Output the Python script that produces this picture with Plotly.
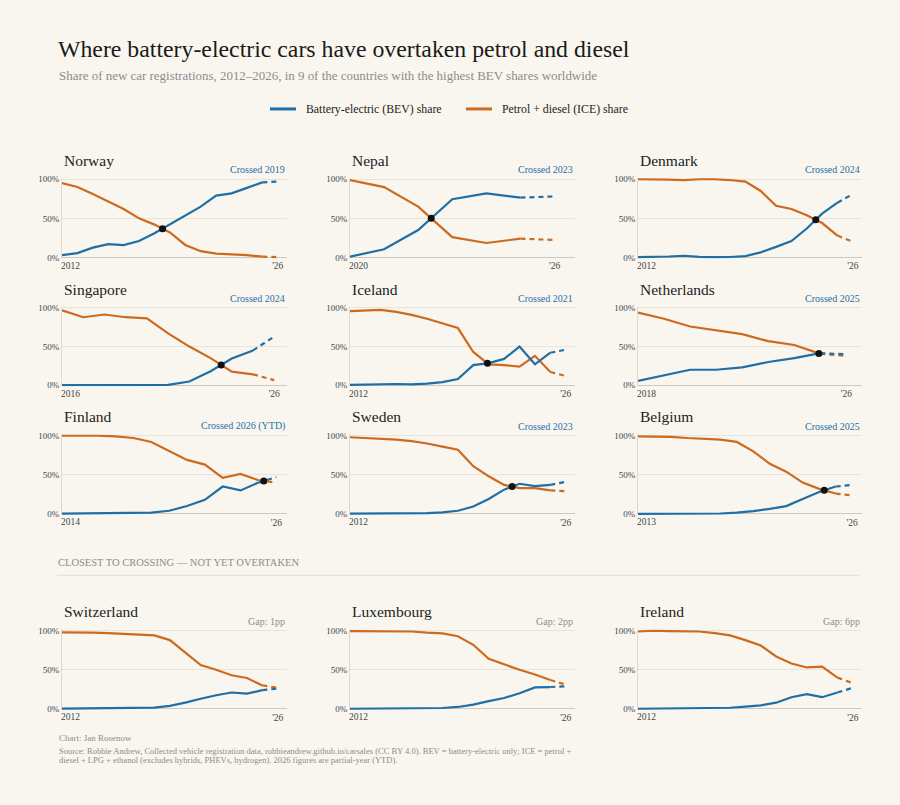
import plotly.graph_objects as go

# --- data (share of new car registrations, %) ---
countries = ["Norway", "Nepal", "Denmark", "Singapore", "Iceland", "Netherlands",
             "Finland", "Sweden", "Belgium", "Switzerland", "Luxembourg", "Ireland"]
start_years = [2012, 2020, 2012, 2016, 2012, 2018, 2014, 2012, 2013, 2012, 2012, 2012]
corner_labels = ["Crossed 2019", "Crossed 2023", "Crossed 2024", "Crossed 2024", "Crossed 2021",
                 "Crossed 2025", "Crossed 2026 (YTD)", "Crossed 2023", "Crossed 2025",
                 "Gap: 1pp", "Gap: 2pp", "Gap: 6pp"]
crossed = [True] * 9 + [False] * 3

bev_norway = [3, 5.5, 12.5, 17, 15.7, 21, 31, 42, 54, 65, 79, 82, 89, 96, 97]
ice_norway = [95, 90, 81, 72, 62, 50, 42, 32, 16, 8, 5, 4, 3, 1, 0.5]
bev_nepal = [1, 10.5, 35, 74.5, 82, 76.5, 78]
ice_nepal = [99, 90, 65, 26, 18.5, 24, 22.5]
bev_denmark = [0.3, 0.5, 1.2, 2.2, 0.8, 0.4, 0.6, 1.8, 6.5, 13.5, 21, 37, 56, 70, 81]
ice_denmark = [100, 100, 99.5, 99, 100, 100, 99, 97, 85, 66, 62, 54, 44, 28, 20]
bev_singapore = [0.1, 0.1, 0.1, 0.1, 0.2, 0.3, 4.7, 18, 34.5, 45, 63]
ice_singapore = [97, 88, 91.5, 88, 86.5, 67, 50, 35, 17.5, 14, 6.5]
bev_iceland = [0.5, 1, 1, 1.5, 1, 2, 4, 8, 26, 28.5, 34, 50, 27, 42, 46]
ice_iceland = [96, 97, 97.5, 95, 91, 86, 80, 74, 43, 27, 26, 24, 38, 17, 12]
bev_netherlands = [5.5, 13, 20, 20, 23, 30, 35, 41.5, 40]
ice_netherlands = [94, 86, 76, 71, 66, 57, 52, 40.5, 38]
bev_finland = [0.2, 0.3, 0.4, 0.5, 0.7, 1.5, 4, 10, 18, 35, 30, 40, 47]
ice_finland = [100, 100, 100, 99, 97, 92, 80, 69, 63, 46, 51, 43, 40]
bev_sweden = [0.3, 0.3, 0.4, 0.5, 0.7, 1, 2, 4, 9.5, 19, 31, 38.5, 35.5, 37, 41]
ice_sweden = [98, 97, 96, 95, 93, 90, 86, 82, 61, 48, 37, 33, 33, 30, 29]
bev_belgium = [0.1, 0.2, 0.2, 0.3, 0.3, 0.5, 1.5, 3.5, 6.5, 10, 19, 28, 35, 37]
ice_belgium = [99, 99, 98.5, 97, 96, 95, 92, 80, 64, 54, 40, 32, 26, 23.5]
bev_switzerland = [0.3, 0.5, 0.7, 1, 1.2, 1.5, 1.7, 4, 8, 13, 17.5, 21, 19.5, 24, 26]
ice_switzerland = [98, 98, 97.5, 97, 96, 95.5, 94, 88, 72, 56, 50, 43, 39.5, 30, 27]
bev_luxembourg = [0.2, 0.3, 0.4, 0.5, 0.6, 0.8, 1.2, 2.5, 5.5, 10, 14, 20, 27.5, 28, 29]
ice_luxembourg = [99.5, 99.5, 99, 99.5, 99, 97.5, 96.5, 93, 82, 64, 57, 50, 44, 37, 31]
bev_ireland = [0.2, 0.3, 0.3, 0.3, 0.4, 0.5, 1.5, 3, 4.5, 8, 15, 19, 15, 21, 27]
ice_ireland = [99, 100, 99.5, 99.5, 99, 97, 94, 88, 81, 67, 58, 53, 54, 40, 33]

bev_all = [bev_norway, bev_nepal, bev_denmark, bev_singapore, bev_iceland, bev_netherlands,
           bev_finland, bev_sweden, bev_belgium, bev_switzerland, bev_luxembourg, bev_ireland]
ice_all = [ice_norway, ice_nepal, ice_denmark, ice_singapore, ice_iceland, ice_netherlands,
           ice_finland, ice_sweden, ice_belgium, ice_switzerland, ice_luxembourg, ice_ireland]

# --- style ---
W, H = 900, 805
BG = "#f9f6ef"
BLUE = "#1f6fa6"
ORANGE = "#cc6a1f"
GRID = "#e8e4db"
INK = "#222222"
GREY = "#8c8c8c"
SERIF = "Liberation Serif, DejaVu Serif, serif"

col_px = [(62, 287), (350, 575), (638, 862)]
row_px = [(177, 256), (307, 385), (436, 515), (633, 712)]


def fx(px):
    return px / W


def fy(px):
    return 1 - px / H


fig = go.Figure()
annotations = []
shapes = []
layout_axes = {}

for k, name in enumerate(countries):
    n = k + 1
    xa = "x" if n == 1 else f"x{n}"
    ya = "y" if n == 1 else f"y{n}"
    start = start_years[k]
    years = list(range(start, 2027))
    bev, ice = bev_all[k], ice_all[k]

    for vals, color in [(ice, ORANGE), (bev, BLUE)]:
        fig.add_trace(go.Scatter(x=years[:-1], y=vals[:-1], mode="lines",
                                 line=dict(color=color, width=2.2),
                                 xaxis=xa, yaxis=ya, showlegend=False, hoverinfo="skip"))
        fig.add_trace(go.Scatter(x=years[-2:], y=vals[-2:], mode="lines",
                                 line=dict(color=color, width=2.2, dash="5px,4px"),
                                 xaxis=xa, yaxis=ya, showlegend=False, hoverinfo="skip"))

    # crossing point (first year BEV overtakes ICE, linearly interpolated)
    if crossed[k]:
        for i in range(1, len(years)):
            d0 = bev[i - 1] - ice[i - 1]
            d1 = bev[i] - ice[i]
            if d0 < 0 <= d1:
                t = -d0 / (d1 - d0)
                fig.add_trace(go.Scatter(x=[years[i - 1] + t], y=[bev[i - 1] + t * (bev[i] - bev[i - 1])],
                                         mode="markers", marker=dict(color="#111111", size=7),
                                         xaxis=xa, yaxis=ya, showlegend=False, hoverinfo="skip"))
                break

    left, right = col_px[k % 3]
    top, bottom = row_px[k // 3]
    extra = (bottom - top) * 0.015
    layout_axes["xaxis" if n == 1 else f"xaxis{n}"] = dict(
        domain=[fx(left), fx(right)], range=[start, 2026.6], anchor=ya,
        tickvals=[2026], ticktext=["'26"], ticks="", showgrid=False, zeroline=False,
        showline=False, tickfont=dict(family=SERIF, size=9.5, color="#444"), fixedrange=True)
    layout_axes["yaxis" if n == 1 else f"yaxis{n}"] = dict(
        domain=[fy(bottom + extra), fy(top - extra)], range=[-1.5, 101.5], anchor=xa,
        tickvals=[0, 50, 100], ticktext=["0%", "50%", "100%"], ticks="",
        showgrid=True, gridcolor=GRID, gridwidth=1,
        zeroline=True, zerolinecolor="#cfcac0", zerolinewidth=1,
        showline=True, linecolor="#dedad1", linewidth=1,
        tickfont=dict(family=SERIF, size=9, color="#444"), fixedrange=True)

    # panel title, corner note, start-year label
    annotations.append(dict(text=name, xref=f"{xa} domain", yref="paper", x=0, y=fy(top - 19),
                            xanchor="left", yanchor="middle", showarrow=False,
                            font=dict(family=SERIF, size=15.5, color=INK)))
    annotations.append(dict(text=corner_labels[k], xref=f"{xa} domain", yref="paper", x=1, y=fy(top - 9.5),
                            xanchor="right", yanchor="middle", showarrow=False,
                            font=dict(family=SERIF, size=10, color=BLUE if crossed[k] else GREY)))
    annotations.append(dict(text=str(start), xref=xa, yref="paper", x=start, y=fy(bottom + 8.5),
                            xanchor="left", yanchor="middle", showarrow=False, xshift=-3,
                            font=dict(family=SERIF, size=9.5, color="#444")))

# headings
annotations += [
    dict(text="Where battery-electric cars have overtaken petrol and diesel", x=fx(56), y=fy(45),
         font=dict(family=SERIF, size=23.8, color="#1a1a1a")),
    dict(text="Share of new car registrations, 2012–2026, in 9 of the countries with the highest BEV shares worldwide",
         x=fx(57), y=fy(72), font=dict(family=SERIF, size=12.95, color=GREY)),
    dict(text="Battery-electric (BEV) share", x=fx(304), y=fy(106), font=dict(family=SERIF, size=11.8, color=INK)),
    dict(text="Petrol + diesel (ICE) share", x=fx(500), y=fy(106), font=dict(family=SERIF, size=11.8, color=INK)),
    dict(text="CLOSEST TO CROSSING — NOT YET OVERTAKEN", x=fx(56), y=fy(564),
         font=dict(family=SERIF, size=10.5, color=GREY)),
    dict(text="Chart: Jan Rosenow", x=fx(57), y=fy(741), font=dict(family=SERIF, size=9, color=GREY)),
    dict(text="Source: Robbie Andrew, Collected vehicle registration data, robbieandrew.github.io/carsales (CC BY 4.0). "
              "BEV = battery-electric only; ICE = petrol +",
         x=fx(57), y=fy(755), font=dict(family=SERIF, size=8.5, color=GREY)),
    dict(text="diesel + LPG + ethanol (excludes hybrids, PHEVs, hydrogen). 2026 figures are partial-year (YTD).",
         x=fx(57), y=fy(764), font=dict(family=SERIF, size=8.5, color=GREY)),
]
for a in annotations[-8:]:
    a.update(xref="paper", yref="paper", xanchor="left", yanchor="middle", showarrow=False)

shapes += [
    dict(type="line", xref="paper", yref="paper", x0=fx(270), x1=fx(296), y0=fy(106), y1=fy(106),
         line=dict(color=BLUE, width=3)),
    dict(type="line", xref="paper", yref="paper", x0=fx(466), x1=fx(492), y0=fy(106), y1=fy(106),
         line=dict(color=ORANGE, width=3)),
    dict(type="line", xref="paper", yref="paper", x0=fx(57), x1=fx(860), y0=fy(577), y1=fy(577),
         line=dict(color="#e2ded5", width=1)),
]

fig.update_layout(
    width=W, height=H, margin=dict(l=0, r=0, t=0, b=0),
    paper_bgcolor=BG, plot_bgcolor=BG, showlegend=False,
    annotations=annotations, shapes=shapes, font=dict(family=SERIF),
    **layout_axes,
)

# drop the page's default body margin so the 900x805 figure fills the window exactly
fig.write_html("out.html", config={"displayModeBar": False},
               post_script="document.body.style.margin='0';document.body.style.overflow='hidden';"
                           "document.body.style.background='" + BG + "';")
